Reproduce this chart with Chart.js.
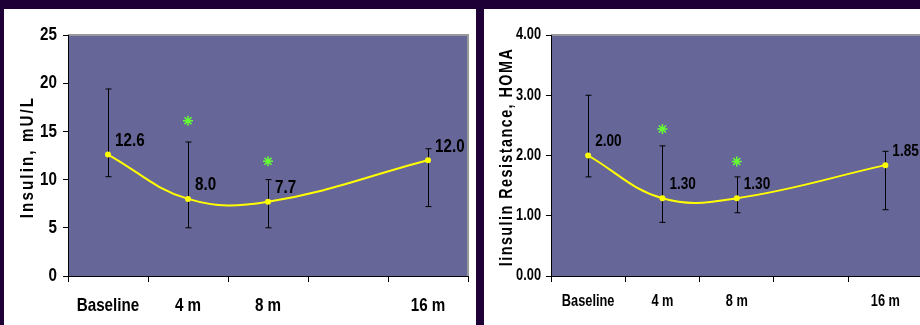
<!DOCTYPE html>
<html>
<head>
<meta charset="utf-8">
<script src="https://cdn.jsdelivr.net/npm/chart.js@4.4.1/dist/chart.umd.min.js"></script>
<style>
    html, body { margin: 0; padding: 0; width: 920px; height: 325px; overflow: hidden; background: #1f0036; }
    .panel { position: absolute; top: 9px; height: 316px; background: #fff; overflow: hidden; }
    #p1 { left: 4px; width: 472px; }
    #p2 { left: 484px; width: 436px; }
    canvas { position: absolute; left: 0; top: 0; }
</style>
</head>
<body>
<div class="panel" id="p1"><canvas id="insulin-chart" width="472" height="316"></canvas></div>
<div class="panel" id="p2"><canvas id="homa-chart" width="445" height="316"></canvas></div>
<script>
// shared categories (12 m has no measurement)
const labels = ["Baseline", "4 m", "8 m", "", "16 m"];

// insulin, mU/L
const insulinMean = [12.6, 8.0, 7.7, null, 12.0];
const insulinHigh = [19.4, 13.9, 10.0, null, 13.2];
const insulinLow = [10.3, 5.0, 5.0, null, 7.2];
const insulinStars = [null, 16.1, 11.9, null, null];
const insulinText = ["12.6", "8.0", "7.7", "", "12.0"];

// insulin resistance, HOMA
const homaMean = [2.0, 1.29, 1.29, null, 1.84];
const homaHigh = [3.0, 2.16, 1.645, null, 2.07];
const homaLow = [1.645, 0.89, 1.05, null, 1.1];
const homaStars = [null, 2.44, 1.9, null, null];
const homaText = ["2.00", "1.30", "1.30", "", "1.85"];

// no narrow font installed, so squeeze Liberation Sans horizontally
const FONT = "'Liberation Sans', Arial, sans-serif";
const SQUEEZE = 0.8;

function narrowText(ctx, str, x, y, align) {
    ctx.save();
    ctx.translate(x, y);
    ctx.scale(SQUEEZE, 1);
    ctx.textAlign = align;
    ctx.fillText(str, 0, 0);
    ctx.restore();
}

// plot background + gray frame on top/right
const plotBg = {
    id: "plotBg",
    beforeDraw(chart) {
        const { ctx, chartArea: a } = chart;
        ctx.save();
        ctx.fillStyle = "#666699";
        ctx.fillRect(a.left, a.top, a.right - a.left, a.bottom - a.top);
        ctx.strokeStyle = "#999999";
        ctx.lineWidth = 2;
        ctx.beginPath();
        ctx.moveTo(a.left, a.top);
        ctx.lineTo(a.right, a.top);
        ctx.lineTo(a.right, a.bottom);
        ctx.stroke();
        ctx.restore();
    },
};

// error bars
const errorBars = {
    id: "errorBars",
    beforeDatasetsDraw(chart, args, opts) {
        const { ctx, scales } = chart;
        ctx.save();
        ctx.strokeStyle = "#000";
        ctx.lineWidth = 1;
        opts.high.forEach((hi, i) => {
            if (hi == null) return;
            const x = Math.round(scales.x.getPixelForValue(i)) + 0.5;
            const yh = scales.y.getPixelForValue(hi);
            const yl = scales.y.getPixelForValue(opts.low[i]);
            ctx.beginPath();
            ctx.moveTo(x, yh);
            ctx.lineTo(x, yl);
            ctx.moveTo(x - 3, yh);
            ctx.lineTo(x + 3, yh);
            ctx.moveTo(x - 3, yl);
            ctx.lineTo(x + 3, yl);
            ctx.stroke();
        });
        ctx.restore();
    },
};

// tick labels, value labels and rotated axis title (all narrow bold)
const annotations = {
    id: "annotations",
    afterDraw(chart, args, opts) {
        const { ctx, scales, chartArea: a } = chart;
        ctx.save();
        ctx.fillStyle = "#000";
        ctx.textBaseline = "middle";

        ctx.font = "bold " + opts.size + "px " + FONT;
        scales.y.ticks.forEach((t, i) => {
            narrowText(ctx, t.value.toFixed(opts.digits), a.left - opts.yGap, scales.y.getPixelForTick(i), "right");
        });
        chart.data.labels.forEach((l, i) => {
            if (l) narrowText(ctx, l, scales.x.getPixelForValue(i), opts.xLabelY, "center");
        });

        ctx.font = "bold " + opts.valueSize + "px " + FONT;
        opts.text.forEach((t, i) => {
            if (!t) return;
            const pt = chart.getDatasetMeta(0).data[i];
            narrowText(ctx, t, pt.x + 7, pt.y - 14, "left");
        });

        ctx.translate(opts.titleX, 148);
        ctx.rotate(-Math.PI / 2);
        ctx.font = "bold " + opts.titleSize + "px " + FONT;
        ctx.letterSpacing = opts.spacing + "px";
        narrowText(ctx, opts.title, 0, 0, "center");
        ctx.restore();
    },
};

function makeChart(canvas, cfg) {
    return new Chart(canvas, {
        type: "line",
        data: {
            labels: labels,
            datasets: [
                {
                    data: cfg.mean,
                    borderColor: "#ffff00",
                    backgroundColor: "#ffff00",
                    borderWidth: 2,
                    tension: 0.4,
                    spanGaps: true,
                    pointRadius: 3,
                    pointBorderWidth: 0,
                },
                {
                    data: cfg.stars,
                    showLine: false,
                    pointStyle: "star",
                    pointRadius: 5,
                    borderColor: "#66ff33",
                    borderWidth: 1.5,
                },
            ],
        },
        options: {
            responsive: false,
            animation: false,
            layout: { padding: { top: 26, right: cfg.padRight, left: 0, bottom: 0 } },
            plugins: {
                legend: { display: false },
                tooltip: { enabled: false },
                errorBars: { high: cfg.high, low: cfg.low },
                annotations: {
                    text: cfg.text,
                    size: cfg.size,
                    valueSize: cfg.valueSize,
                    digits: cfg.digits,
                    yGap: cfg.yGap,
                    xLabelY: cfg.xLabelY,
                    title: cfg.title,
                    titleX: cfg.titleX,
                    titleSize: cfg.titleSize,
                    spacing: cfg.spacing,
                },
            },
            scales: {
                x: {
                    offset: true,
                    grid: { offset: true, drawOnChartArea: false, color: "#000", tickLength: 6 },
                    border: { color: "#000" },
                    ticks: { display: false, autoSkip: false },
                    afterFit: (s) => { s.height = 49; },
                },
                y: {
                    min: 0,
                    max: cfg.max,
                    grid: { drawOnChartArea: false, color: "#000", tickLength: 5 },
                    border: { color: "#000" },
                    ticks: { display: false, stepSize: cfg.step },
                    afterFit: (s) => { s.width = cfg.axisWidth; },
                },
            },
        },
        plugins: [plotBg, errorBars, annotations],
    });
}

makeChart(document.getElementById("insulin-chart"), {
    mean: insulinMean, high: insulinHigh, low: insulinLow, stars: insulinStars, text: insulinText,
    max: 25, step: 5, digits: 0, size: 19, valueSize: 19, padRight: 8, axisWidth: 64, yGap: 11, xLabelY: 297,
    title: "Insulin, mU/L", titleX: 24, titleSize: 19, spacing: 2.6,
});

makeChart(document.getElementById("homa-chart"), {
    mean: homaMean, high: homaHigh, low: homaLow, stars: homaStars, text: homaText,
    max: 4, step: 1, digits: 2, size: 16, valueSize: 17, padRight: 6, axisWidth: 67, yGap: 10, xLabelY: 293,
    title: "Iinsulin Resistance, HOMA", titleX: 23, titleSize: 18, spacing: 1.8,
});
</script>
</body>
</html>
